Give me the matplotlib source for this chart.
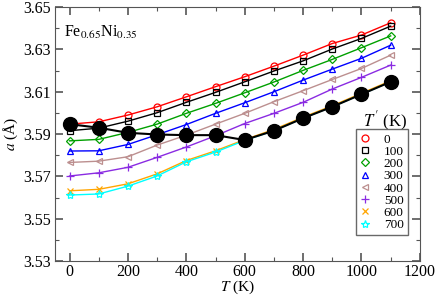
import numpy as np
import matplotlib
matplotlib.use("Agg")
import matplotlib.pyplot as plt
from matplotlib.ticker import MultipleLocator, FixedLocator, FormatStrFormatter

plt.rcParams['font.family'] = ['Liberation Serif', 'DejaVu Serif']
plt.rcParams['mathtext.fontset'] = 'stix'

# temperatures T (K)
temps = [0, 100, 200, 300, 400, 500, 600, 700, 800, 900, 1000, 1100]

# lattice parameter a for each T' (K)
a_0 = [3.5947, 3.5958, 3.5990, 3.6029, 3.6076, 3.6124, 3.6171, 3.6221, 3.6273, 3.6328, 3.6368, 3.6426]
a_100 = [3.5916, 3.5928, 3.5961, 3.6001, 3.6050, 3.6097, 3.6147, 3.6198, 3.6246, 3.6302, 3.6352, 3.6410]
a_200 = [3.5868, 3.5875, 3.5908, 3.5947, 3.5998, 3.6045, 3.6095, 3.6146, 3.6201, 3.6253, 3.6308, 3.6364]
a_300 = [3.5820, 3.5821, 3.5851, 3.5897, 3.5945, 3.5998, 3.6048, 3.6100, 3.6155, 3.6207, 3.6258, 3.6320]
a_400 = [3.5766, 3.5772, 3.5793, 3.5848, 3.5895, 3.5947, 3.5998, 3.6053, 3.6105, 3.6158, 3.6210, 3.6273]
a_500 = [3.5702, 3.5717, 3.5743, 3.5790, 3.5839, 3.5892, 3.5950, 3.5998, 3.6050, 3.6113, 3.6168, 3.6226]
a_600 = [3.5632, 3.5639, 3.5665, 3.5712, 3.5775, 3.5821, 3.5874, 3.5922, 3.5980, 3.6034, 3.6093, 3.6152]
a_700 = [3.5612, 3.5617, 3.5654, 3.5702, 3.5769, 3.5815, 3.5870, 3.5916, 3.5975, 3.6029, 3.6088, 3.6147]

# equilibrium values (T = T')
a_eq = [3.5947, 3.5930, 3.5906, 3.5898, 3.5895, 3.5895, 3.5872, 3.5916, 3.5975, 3.6029, 3.6088, 3.6147]

series_labels = ["0", "100", "200", "300", "400", "500", "600", "700"]
series = [a_0, a_100, a_200, a_300, a_400, a_500, a_600, a_700]
colors = ["red", "black", "#00a000", "blue", "#bc8f8f", "#8a2be2", "orange", "cyan"]
markers = ["o", "s", "D", "^", "<", "+", "x", "*"]
msizes = [5, 4.5, 4.2, 5, 5, 6, 5, 6]

y_major = [3.53, 3.55, 3.57, 3.59, 3.61, 3.63, 3.65]

fig = plt.figure(figsize=(4.36, 2.96), dpi=100)
ax = fig.add_axes([0.126, 0.118, 0.837, 0.858])

handles = []
for vals, lab, c, m, ms in zip(series, series_labels, colors, markers, msizes):
    h, = ax.plot(temps, vals, color=c, lw=1.0, marker=m, ms=ms,
                 mfc='none', mec=c, mew=0.9, label=lab)
    handles.append(h)

ax.plot(temps, a_eq, color='black', lw=1.5, marker='o', ms=10, mfc='black', mec='black', zorder=5)

ax.set_xlim(-50, 1200)
ax.set_ylim(3.53, 3.65)
ax.xaxis.set_major_locator(MultipleLocator(200))
ax.xaxis.set_minor_locator(MultipleLocator(100))
ax.yaxis.set_major_locator(FixedLocator(y_major))
ax.yaxis.set_minor_locator(FixedLocator([v + 0.01 for v in y_major[:-1]]))
ax.yaxis.set_major_formatter(FormatStrFormatter('%.2f'))
ax.tick_params(which='both', direction='in', top=True, right=True, labelsize=11.5,
               colors='#555555', labelcolor='black', pad=3)
ax.tick_params(axis='x', pad=2)
ax.tick_params(which='major', length=6, width=1.2)
ax.tick_params(which='minor', length=3, width=0.8)
for s in ax.spines.values():
    s.set_color('#555555')

ax.set_xlabel(r'$T$ (K)', fontsize=11, labelpad=-1)
ax.set_ylabel(r'$a$ (Å)', fontsize=11, labelpad=2)

ax.text(0.025, 0.90, r'Fe$_{0.65}$Ni$_{0.35}$', transform=ax.transAxes, fontsize=11.5, va='center')

leg = ax.legend(handles=handles, loc='lower right', bbox_to_anchor=(0.967, 0.102),
                fontsize=9.5, frameon=True, fancybox=False, edgecolor='#444444',
                handlelength=0.8, handletextpad=1.0, labelspacing=0.0,
                borderpad=0.3, borderaxespad=0)
leg.get_frame().set_linewidth(1.0)
for lh in leg.get_lines():
    lh.set_linestyle('none')
ax.text(0.904, 0.55, r"$T'$ (K)", transform=ax.transAxes, fontsize=12, ha='center', va='center')

fig.savefig("out.png", dpi=100)
